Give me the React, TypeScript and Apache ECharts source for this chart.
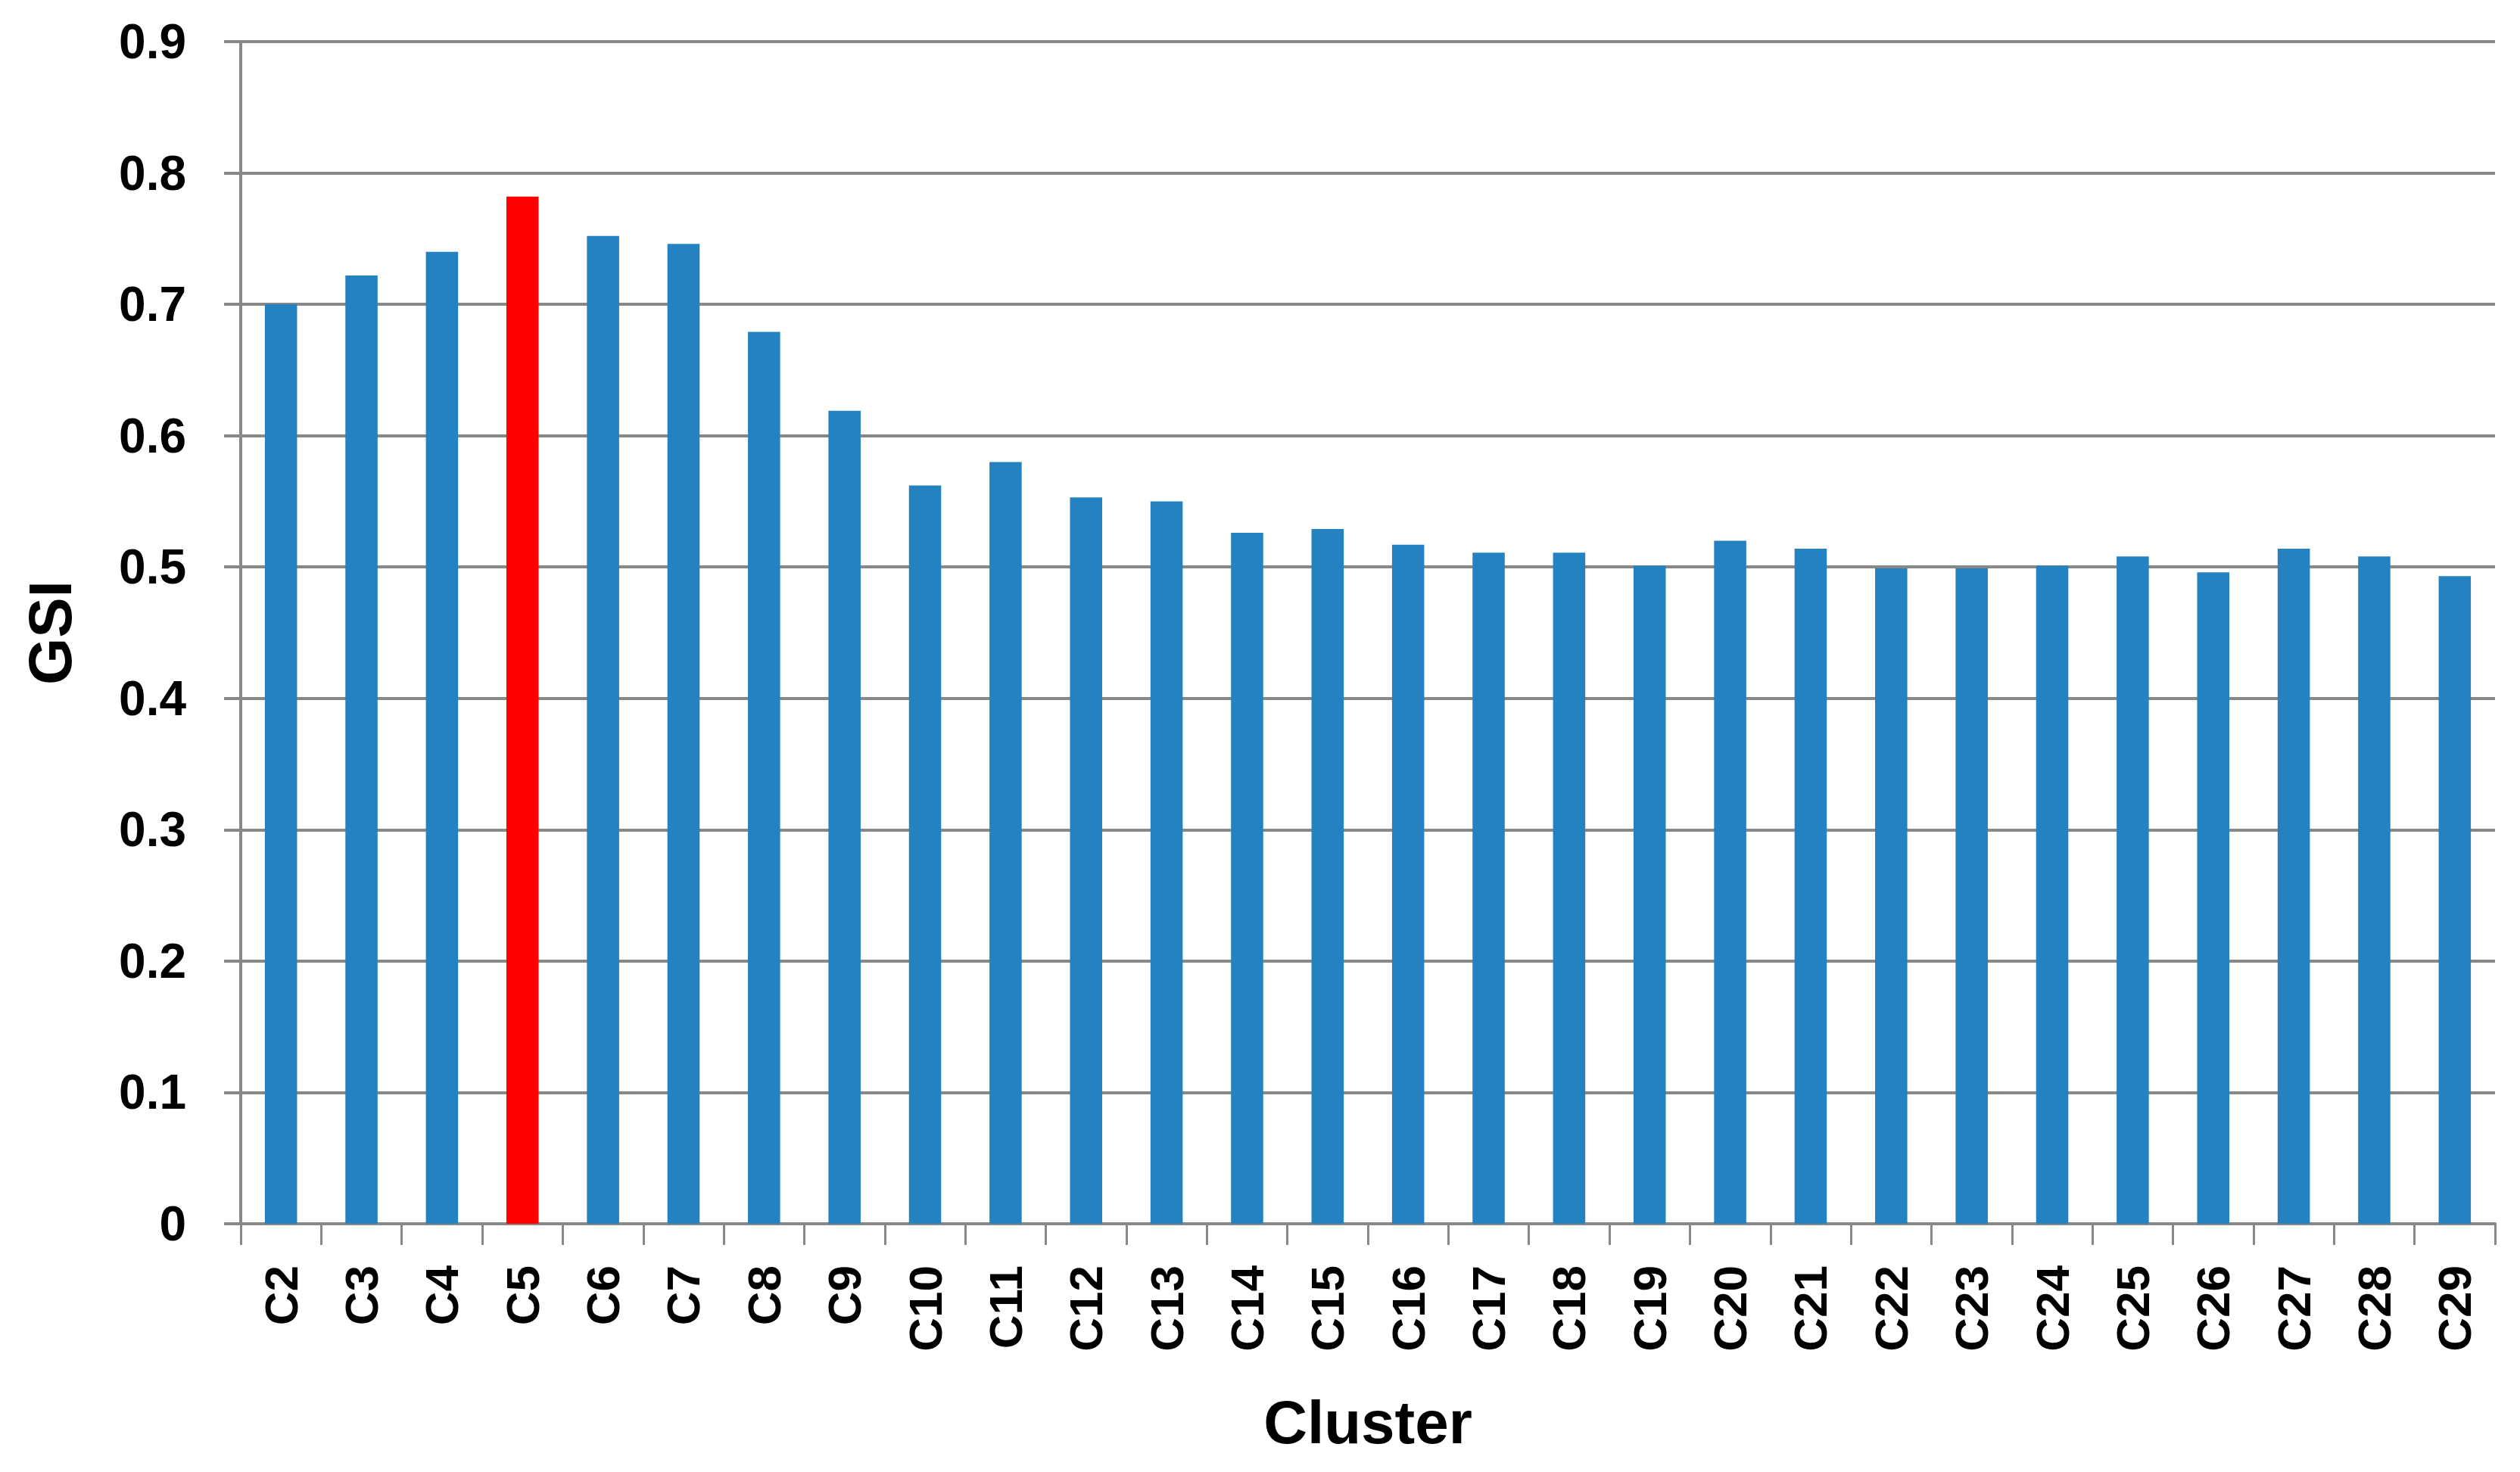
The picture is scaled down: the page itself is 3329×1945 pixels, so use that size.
import React, { useEffect, useRef } from "react";
import * as echarts from "echarts";

const categories = [
  "C2", "C3", "C4", "C5", "C6", "C7", "C8", "C9", "C10", "C11", "C12", "C13", "C14", "C15",
  "C16", "C17", "C18", "C19", "C20", "C21", "C22", "C23", "C24", "C25", "C26", "C27", "C28", "C29",
];
const gsiValues = [
  0.70, 0.722, 0.74, 0.782, 0.752, 0.746, 0.679, 0.619, 0.562, 0.58, 0.553, 0.55, 0.526, 0.529,
  0.517, 0.511, 0.511, 0.501, 0.52, 0.514, 0.499, 0.499, 0.501, 0.508, 0.496, 0.514, 0.508, 0.493,
];
const highlighted = "C5";
const yTicks = { min: 0, max: 0.9, interval: 0.1 };

const BLUE = "#2482C1";
const RED = "#FF0000";
const GRID = "#888888";
const FONT = "Liberation Sans";

export default function App() {
  const ref = useRef<HTMLDivElement>(null);
  useEffect(() => {
    document.body.style.margin = "0";
    const chart = echarts.init(ref.current!, null, { renderer: "svg" });
    chart.setOption({
      animation: false,
      backgroundColor: "#ffffff",
      grid: { left: 318, right: 33, top: 55, bottom: 328, containLabel: false },
      xAxis: {
        type: "category",
        data: categories,
        name: "Cluster",
        nameLocation: "middle",
        nameGap: 222,
        nameTextStyle: { fontFamily: FONT, fontWeight: "bold", fontSize: 80, color: "#000" },
        axisLine: { show: true, lineStyle: { color: GRID, width: 4 } },
        axisTick: { show: true, length: 28, lineStyle: { color: GRID, width: 3 } },
        axisLabel: {
          rotate: 90,
          margin: 55,
          fontFamily: FONT,
          fontWeight: "bold",
          fontSize: 62,
          color: "#000",
          interval: 0,
        },
      },
      yAxis: {
        type: "value",
        min: yTicks.min,
        max: yTicks.max,
        interval: yTicks.interval,
        name: "GSI",
        nameLocation: "middle",
        nameGap: 212,
        nameTextStyle: { fontFamily: FONT, fontWeight: "bold", fontSize: 80, color: "#000" },
        axisLine: { show: true, lineStyle: { color: GRID, width: 4 } },
        axisTick: { show: true, length: 22, lineStyle: { color: GRID, width: 4 } },
        splitLine: { show: true, lineStyle: { color: GRID, width: 4 } },
        axisLabel: {
          margin: 72,
          fontFamily: FONT,
          fontWeight: "bold",
          fontSize: 64,
          color: "#000",
          formatter: (v: number) => (v === 0 ? "0" : v.toFixed(1)),
        },
      },
      series: [
        {
          type: "bar",
          barWidth: "40%",
          data: gsiValues.map((v, i) => ({
            value: v,
            itemStyle: { color: categories[i] === highlighted ? RED : BLUE },
          })),
        },
      ],
    });
    return () => chart.dispose();
  }, []);
  return <div ref={ref} style={{ width: 3329, height: 1945 }} />;
}
